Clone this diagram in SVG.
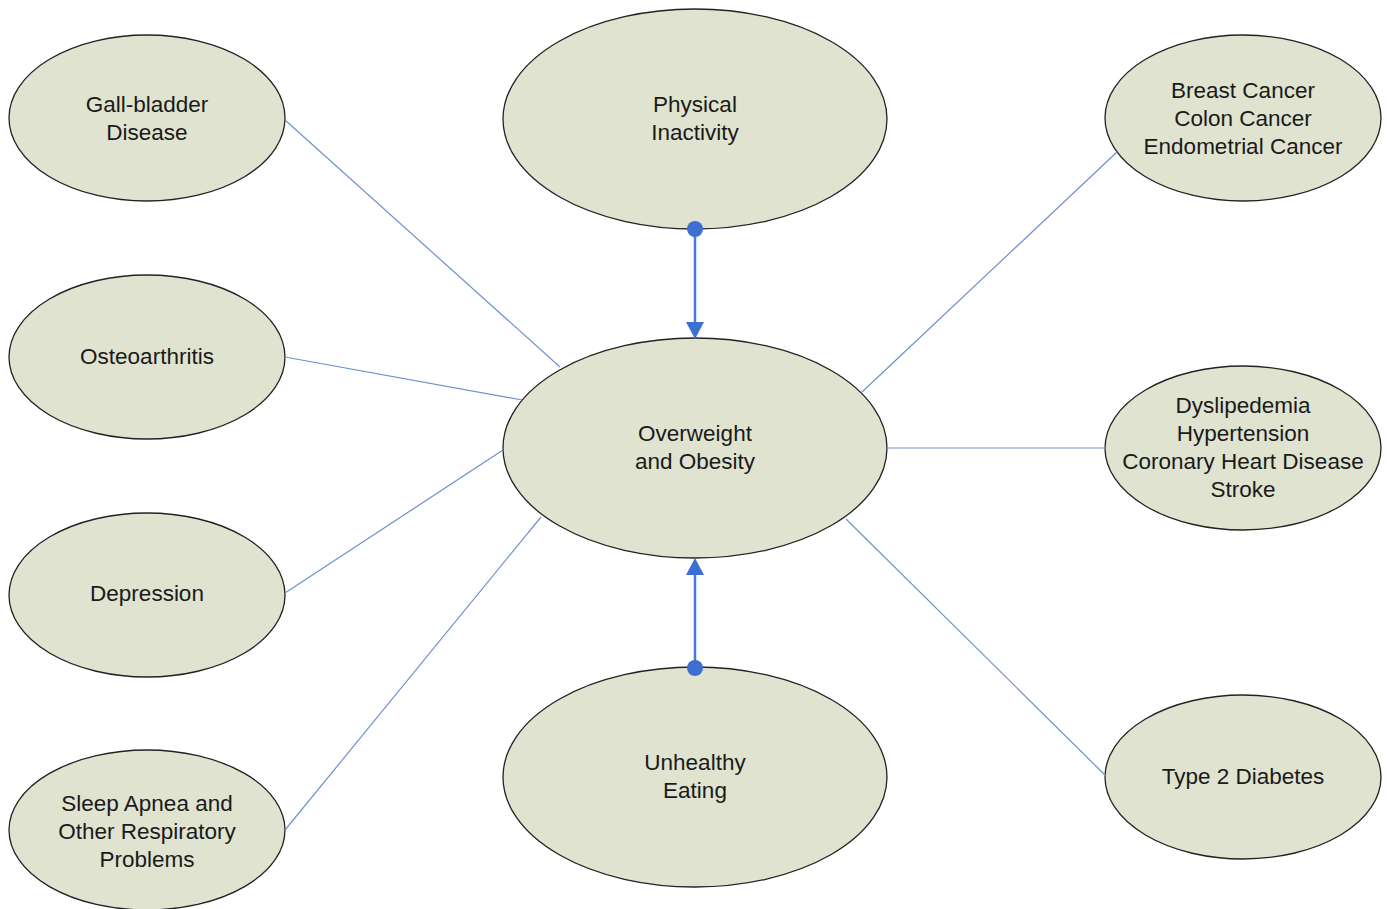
<svg xmlns="http://www.w3.org/2000/svg" width="1387" height="909" viewBox="0 0 1387 909">
<style>
.n ellipse{fill:#dfe3cf;stroke:#222;stroke-width:1.3}
.n text{font-family:"Liberation Sans",Arial,sans-serif;font-size:22.5px;fill:#1a1a1a;text-anchor:middle}
.c line{stroke:#6f8fcf;stroke-width:1.2}
.c line.a{stroke:#4a7ad6;stroke-width:2.5}
.c .h{fill:#3d6fd3}
</style>
<rect width="1387" height="909" fill="#fff"/>
<g id="gall" class="n"><ellipse cx="147" cy="118" rx="138" ry="83"/><text x="147" y="112">Gall-bladder</text><text x="147" y="140">Disease</text></g>
<g id="osteo" class="n"><ellipse cx="147" cy="357" rx="138" ry="82"/><text x="147" y="364">Osteoarthritis</text></g>
<g id="depression" class="n"><ellipse cx="147" cy="595" rx="138" ry="82"/><text x="147" y="601">Depression</text></g>
<g id="sleep" class="n"><ellipse cx="147" cy="830" rx="138" ry="80"/><text x="147" y="811">Sleep Apnea and</text><text x="147" y="839">Other Respiratory</text><text x="147" y="867">Problems</text></g>
<g id="physical" class="n"><ellipse cx="695" cy="119" rx="192" ry="110"/><text x="695" y="112">Physical</text><text x="695" y="140">Inactivity</text></g>
<g id="overweight" class="n"><ellipse cx="695" cy="448" rx="192" ry="110"/><text x="695" y="441">Overweight</text><text x="695" y="469">and Obesity</text></g>
<g id="unhealthy" class="n"><ellipse cx="695" cy="777" rx="192" ry="110"/><text x="695" y="770">Unhealthy</text><text x="695" y="798">Eating</text></g>
<g id="cancer" class="n"><ellipse cx="1243" cy="118" rx="138" ry="83"/><text x="1243" y="98">Breast Cancer</text><text x="1243" y="126">Colon Cancer</text><text x="1243" y="154">Endometrial Cancer</text></g>
<g id="cardio" class="n"><ellipse cx="1243" cy="448" rx="138" ry="82"/><text x="1243" y="413">Dyslipedemia</text><text x="1243" y="441">Hypertension</text><text x="1243" y="469">Coronary Heart Disease</text><text x="1243" y="497">Stroke</text></g>
<g id="diabetes" class="n"><ellipse cx="1243" cy="777" rx="138" ry="82"/><text x="1243" y="784">Type 2 Diabetes</text></g>
<g class="c">
<line x1="285" y1="120" x2="560" y2="367"/>
<line x1="285" y1="357" x2="522" y2="400"/>
<line x1="285" y1="593" x2="503" y2="450"/>
<line x1="285" y1="830" x2="541" y2="517"/>
<line x1="1117" y1="152" x2="862" y2="392"/>
<line x1="887" y1="448" x2="1106" y2="448"/>
<line x1="846" y1="519" x2="1106" y2="776"/>
<line class="a" x1="695" y1="229" x2="695" y2="325"/>
<polygon class="h" points="686,322 704,322 695,339"/>
<circle class="h" cx="695" cy="229" r="8"/>
<line class="a" x1="695" y1="668" x2="695" y2="572"/>
<polygon class="h" points="686,575 704,575 695,558"/>
<circle class="h" cx="695" cy="668" r="8"/>
</g>
</svg>
